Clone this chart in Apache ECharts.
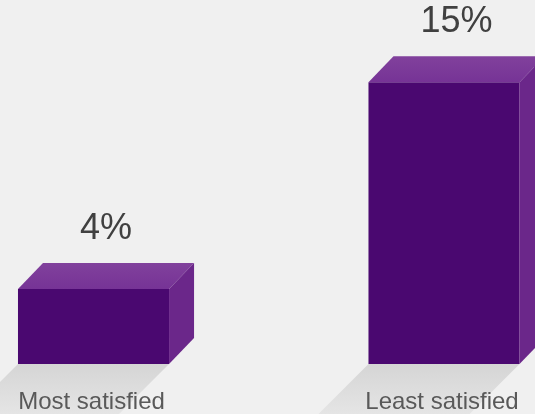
<!DOCTYPE html>
<html><head><meta charset="utf-8">
<script src="https://cdn.jsdelivr.net/npm/echarts@6/dist/echarts.min.js"></script>
<style>html,body{margin:0;padding:0;background:#f0f0f0}#c{width:535px;height:414px}</style>
</head><body><div id="c"></div>
<script>
const categories = ['Most satisfied', 'Least satisfied'];
const values = [4, 15];
const valueLabels = ['4%', '15%'];

const chart = echarts.init(document.getElementById('c'));
const DX = 25, DY = 26, SH = 90;

function renderItem(params, api) {
  const i = api.value(0), v = api.value(1);
  const p0 = api.coord([i, 0]);
  const p1 = api.coord([i, v]);
  const hw = api.size([0.431, 0])[0] / 2;
  const xL = p0[0] - hw, xR = p0[0] + hw, yB = p0[1], yT = p1[1];
  const cx = p0[0];
  return {
    type: 'group',
    children: [
      { type: 'polygon', shape: { points: [[xL, yB], [xR, yB], [xR - SH, yB + SH], [xL - SH, yB + SH]] },
        style: { fill: new echarts.graphic.LinearGradient(0, 0, 0, 1, [
          { offset: 0, color: '#d5d5d5' }, { offset: 0.6, color: '#e6e6e6' }, { offset: 1, color: '#f0f0f0' }]) } },
      { type: 'rect', shape: { x: xL, y: yT, width: xR - xL, height: yB - yT }, style: { fill: '#4a0870' } },
      { type: 'polygon', shape: { points: [[xL, yT], [xR, yT], [xR + DX, yT - DY], [xL + DX, yT - DY]] },
        style: { fill: new echarts.graphic.LinearGradient(0, 0, 0, 1, [
          { offset: 0, color: '#81419c' }, { offset: 1, color: '#763396' }]) } },
      { type: 'polygon', shape: { points: [[xR, yT], [xR + DX, yT - DY], [xR + DX, yB - DY], [xR, yB]] },
        style: { fill: '#6b278a' } },
      { type: 'text', style: { text: valueLabels[i], x: cx + DX / 2, y: yT - DY - 34, align: 'center', verticalAlign: 'middle',
          font: '36px "Liberation Sans", Arial, sans-serif', fill: '#404040' } },
      { type: 'text', style: { text: categories[i], x: cx - 2, y: 402, align: 'center', verticalAlign: 'middle',
          font: '24px "Liberation Sans", Arial, sans-serif', fill: '#595959' } }
    ]
  };
}

chart.setOption({
  backgroundColor: '#f0f0f0',
  animation: false,
  grid: { left: 0, right: 0, top: 26, bottom: 50 },
  xAxis: { type: 'value', min: -0.2668, max: 1.2596, show: false },
  yAxis: { type: 'value', min: 0, max: 18, show: false },
  series: [{
    type: 'custom',
    renderItem: renderItem,
    clip: false,
    data: values.map((v, i) => [i, v])
  }]
});
</script></body></html>
